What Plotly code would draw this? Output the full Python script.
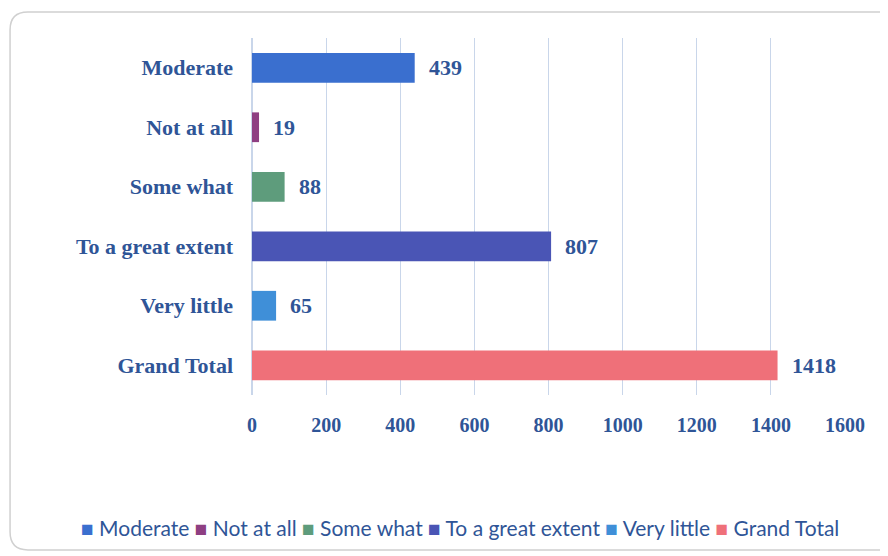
"""Horizontal bar chart: response counts by extent."""

import plotly.graph_objects as go

categories = ["Moderate", "Not at all", "Some what", "To a great extent",
              "Very little", "Grand Total"]
counts = [439, 19, 88, 807, 65, 1418]
colors = ["#3a6fcf", "#8e3f82", "#5e9c7c", "#4a55b5", "#3f8fd8", "#ef7079"]
x_ticks = [0, 200, 400, 600, 800, 1000, 1200, 1400, 1600]

TEXT = "#2f5597"
SERIF = "Liberation Serif, DejaVu Serif, serif"
LEG = "Lato, Roboto, Liberation Sans, sans-serif"

fig = go.Figure()
for cat, val, col in zip(categories, counts, colors):
    fig.add_trace(go.Bar(
        y=[cat], x=[val], orientation="h", name=cat,
        marker=dict(color=col, line=dict(width=0)),
        width=0.5, showlegend=False,
        hovertemplate=f"{cat}: %{{x}}<extra></extra>",
    ))
    # value label a little to the right of the bar end
    fig.add_annotation(
        x=val, y=cat, xref="x", yref="y", text=str(val),
        xanchor="left", xshift=12, showarrow=False,
        font=dict(family=SERIF, size=22, color=TEXT, weight="bold"),
    )

# legend drawn as one line of text with coloured squares
legend_text = " ".join(
    f"<span style='color:{col}'>■</span> {cat}"
    for cat, col in zip(categories, colors))
fig.add_annotation(
    xref="paper", yref="paper", x=0.351, y=-0.37,
    xanchor="center", yanchor="middle", showarrow=False,
    text=legend_text, font=dict(family=LEG, size=21, color=TEXT),
)

# rounded frame around the whole chart
x0, x1, y0, y1 = -0.408, 1.12, -0.434, 1.073
rx, ry = 0.03, 0.05
fig.add_shape(
    type="path", xref="paper", yref="paper",
    path=(f"M {x0+rx} {y1} L {x1-rx} {y1} Q {x1} {y1} {x1} {y1-ry} "
          f"L {x1} {y0+ry} Q {x1} {y0} {x1-rx} {y0} L {x0+rx} {y0} "
          f"Q {x0} {y0} {x0} {y0+ry} L {x0} {y1-ry} Q {x0} {y1} {x0+rx} {y1} Z"),
    line=dict(color="#d0d0d0", width=1.5), layer="below",
)

fig.update_layout(
    width=888, height=556,
    margin=dict(l=244, r=51, t=30, b=169, autoexpand=False),
    plot_bgcolor="white", paper_bgcolor="white",
    barmode="overlay",
    showlegend=False,
    xaxis=dict(range=[0, 1600], tickvals=x_ticks, showgrid=True,
               gridcolor="#c9d6ea", gridwidth=1, zeroline=True,
               zerolinecolor="#c9d6ea", showline=False,
               ticks="", ticklabelstandoff=16, automargin=False,
               tickfont=dict(family=SERIF, size=20, color=TEXT,
                             weight="bold")),
    yaxis=dict(categoryorder="array", categoryarray=categories,
               autorange="reversed", showgrid=False, ticks="",
               ticklabelstandoff=18, automargin=False,
               tickfont=dict(family=SERIF, size=22, color=TEXT,
                             weight="bold")),
)

fig.write_html("out.html")
